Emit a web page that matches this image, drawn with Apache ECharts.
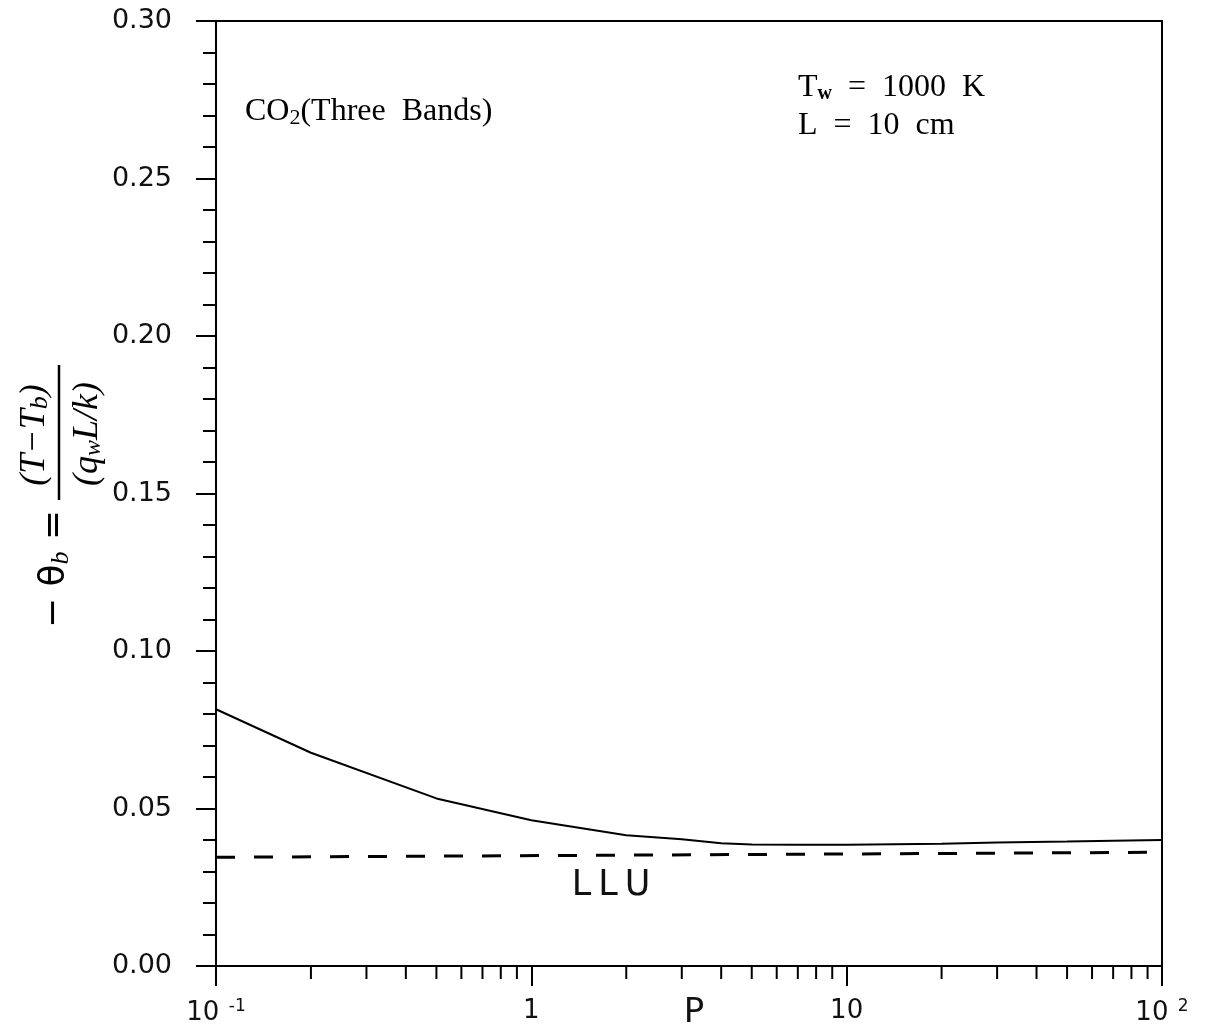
<!DOCTYPE html>
<html>
<head>
<meta charset="utf-8">
<script src="https://cdn.jsdelivr.net/npm/echarts@6/dist/echarts.min.js"></script>
<style>html,body{margin:0;padding:0;background:#fff;}#c{width:1208px;height:1028px;}</style>
</head>
<body>
<div id="c"></div>
<script>
// ---- data ----
const pressure = [0.1, 0.2, 0.5, 1, 2, 3, 4, 5, 7, 10, 20, 30, 50, 70, 100];
const thetaB   = [0.0815, 0.0677, 0.0532, 0.0463, 0.0415, 0.0402, 0.0390, 0.0386, 0.0385, 0.0385, 0.0388, 0.0392, 0.0395, 0.0398, 0.0400];
const lluP     = [0.1, 100];
const lluTheta = [0.0345, 0.0361];
const minorTicksP = [0.2,0.3,0.4,0.5,0.6,0.7,0.8,0.9, 2,3,4,5,6,7,8,9, 20,30,40,50,60,70,80,90];
const yTickLabels = ['0.00','0.05','0.10','0.15','0.20','0.25','0.30'];

const chart = echarts.init(document.getElementById('c'));
const sans = '"DejaVu Sans"';
const serif = '"Liberation Serif"';

chart.setOption({
  backgroundColor: '#fff',
  animation: false,
  grid: { left: 216, right: 46, top: 21, bottom: 62, containLabel: false, outerBoundsMode: 'none',
          show: true, borderColor: '#000', borderWidth: 2, backgroundColor: 'transparent' },
  xAxis: {
    type: 'log', logBase: 10, min: 0.1, max: 100,
    name: 'P', nameLocation: 'middle', nameGap: 30, nameMoveOverlap: false,
    nameTextStyle: { fontFamily: sans, fontSize: 34, color: '#111', padding: [0, 0, 0, 10] },
    axisLine: { show: true, lineStyle: { color: '#000', width: 2 } },
    axisTick: { show: true, inside: false, length: 20, lineStyle: { color: '#000', width: 2 } },
    minorTick: { show: false },
    splitLine: { show: false },
    axisLabel: {
      margin: 32, color: '#111', fontFamily: sans, fontSize: 26,
      formatter: function (v) {
        const e = Math.round(Math.log10(v));
        if (e === 0) return '1';
        if (e === 1) return '10';
        return '10{sup| ' + (e < 0 ? '-' : '') + Math.abs(e) + '}';
      },
      rich: { sup: { fontFamily: sans, fontSize: 17, verticalAlign: 'top', padding: [0, 0, 14, 4] } }
    }
  },
  yAxis: {
    type: 'value', min: 0, max: 0.3, interval: 0.05,
    axisLine: { show: true, lineStyle: { color: '#000', width: 2 } },
    axisTick: { show: true, inside: false, length: 20, lineStyle: { color: '#000', width: 2 } },
    minorTick: { show: true, splitNumber: 5, length: 13, lineStyle: { color: '#000', width: 2 } },
    splitLine: { show: false },
    axisLabel: {
      margin: 44, color: '#111', fontFamily: sans, fontSize: 27,
      formatter: function (v) { return yTickLabels[Math.round(v / 0.05)]; }
    }
  },
  series: [
    {
      type: 'line', data: pressure.map((p, i) => [p, thetaB[i]]),
      showSymbol: false, smooth: false,
      lineStyle: { color: '#000', width: 2 }
    },
    {
      type: 'line', data: lluP.map((p, i) => [p, lluTheta[i]]),
      showSymbol: false,
      lineStyle: { color: '#000', width: 3, type: [19, 19] }
    },
    {
      type: 'custom', silent: true, clip: false,
      data: minorTicksP.map(p => [p, 0]),
      encode: { x: 0, y: 1 },
      renderItem: function (params, api) {
        const pt = api.coord([api.value(0), api.value(1)]);
        return { type: 'line', shape: { x1: pt[0], y1: pt[1], x2: pt[0], y2: pt[1] + 13 }, style: { stroke: '#000', lineWidth: 2 } };
      }
    }
  ],
  graphic: [
    { type: 'text', x: 245, y: 112, style: {
        text: 'CO{sub|2}(Three  Bands)', font: '32px ' + serif, fill: '#000', verticalAlign: 'middle',
        rich: { sub: { fontFamily: serif, fontSize: 22, verticalAlign: 'bottom', padding: [12, 0, 0, 0] } } } },
    { type: 'text', x: 798, y: 88, style: {
        text: 'T{sub|w}  =  1000  K', font: '32px ' + serif, fill: '#000', verticalAlign: 'middle',
        rich: { sub: { fontFamily: serif, fontSize: 20, fontWeight: 'bold', verticalAlign: 'bottom', padding: [12, 0, 0, 0] } } } },
    { type: 'text', x: 798, y: 126, style: {
        text: 'L  =  10  cm', font: '32px ' + serif, fill: '#000', verticalAlign: 'middle' } },
    { type: 'text', x: 611, y: 886, style: {
        text: 'L\u2009L\u2009U', font: '35px ' + sans, fill: '#111', align: 'center', verticalAlign: 'middle' } },
    { type: 'group', x: 59, y: 494, rotation: Math.PI / 2, children: [
        { type: 'text', x: -75, y: -4, style: {
            text: '− θ{sub|b} =', font: '36px ' + sans, fill: '#000', align: 'center', verticalAlign: 'middle',
            rich: { sub: { fontFamily: serif, fontStyle: 'italic', fontSize: 26, verticalAlign: 'bottom', padding: [12, 0, 0, 0] } } } },
        { type: 'line', shape: { x1: -6, y1: 0, x2: 129, y2: 0 }, style: { stroke: '#000', lineWidth: 2.5 } },
        { type: 'text', x: 59, y: -24, style: {
            text: '(T−T{sub|b})', font: 'italic 36px ' + serif, fill: '#000', align: 'center', verticalAlign: 'middle',
            rich: { sub: { fontFamily: serif, fontStyle: 'italic', fontSize: 26, verticalAlign: 'bottom', padding: [10, 0, 0, 0] } } } },
        { type: 'text', x: 60, y: 29, style: {
            text: '(q{sub|w}L/k)', font: 'italic 36px ' + serif, fill: '#000', align: 'center', verticalAlign: 'middle',
            rich: { sub: { fontFamily: serif, fontStyle: 'italic', fontSize: 24, verticalAlign: 'bottom', padding: [10, 0, 0, 0] } } } }
    ] }
  ]
});
</script>
</body>
</html>
